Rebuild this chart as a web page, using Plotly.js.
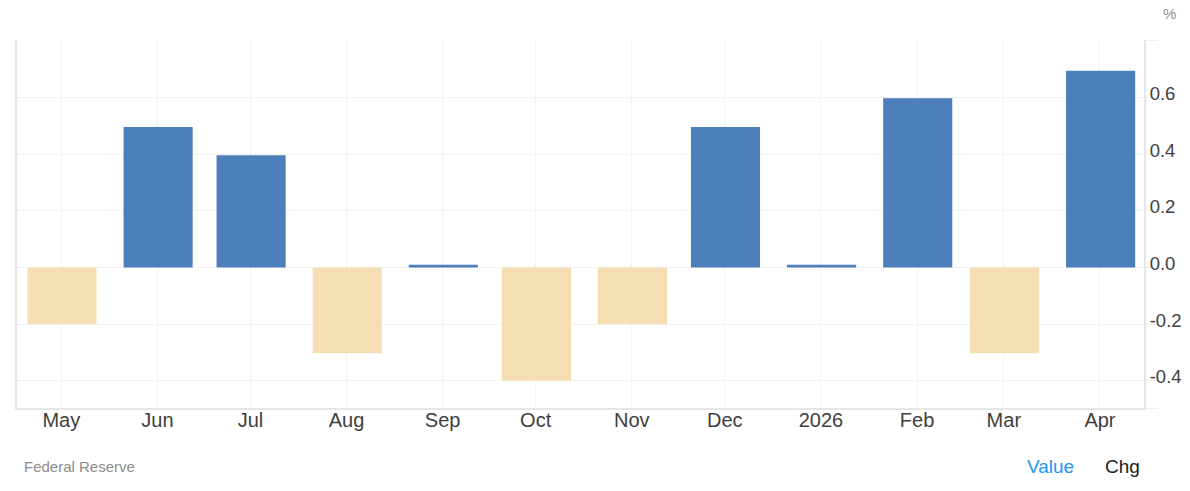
<!DOCTYPE html>
<html>
<head>
<meta charset="utf-8">
<script src="https://cdn.plot.ly/plotly-3.0.1.min.js"></script>
<style>
  html, body { margin: 0; padding: 0; background: #fff; }
</style>
</head>
<body>
<div id="chart" style="width:1190px;height:491px;"></div>
<script>
const months = ['2025-05-01', '2025-06-01', '2025-07-01', '2025-08-01', '2025-09-01', '2025-10-01',
                '2025-11-01', '2025-12-01', '2026-01-01', '2026-02-01', '2026-03-01', '2026-04-01'];
const monthLabels = ['May', 'Jun', 'Jul', 'Aug', 'Sep', 'Oct', 'Nov', 'Dec', '2026', 'Feb', 'Mar', 'Apr'];
const changes = [-0.2, 0.497, 0.397, -0.303, 0.01, -0.4, -0.2, 0.497, 0.01, 0.598, -0.303, 0.695];
const yRange = [-0.496, 0.804];
const yTicks = [-0.496, -0.4, -0.2, 0, 0.2, 0.4, 0.6, 0.804];
const yLabels = ['', '-0.4', '-0.2', '0.0', '0.2', '0.4', '0.6', ''];

const UP = '#4d80bb';
const DOWN = '#f5deb3';
const GRID = '#e6e6e6';
const TEXT = '#404040';
const DAY = 86400000;

const M = { t: 39.5, b: 82.5, l: 16.5, r: 46 };
const plotW = 1190 - M.l - M.r;
const plotH = 491 - M.t - M.b;

// annotations are placed in page pixels, converted to paper fractions
const label = (x, y, text, size, color, anchor) => ({
    xref: 'paper', yref: 'paper',
    x: (x - M.l) / plotW,
    y: (491 - M.b - y) / plotH,
    xanchor: anchor, yanchor: 'middle',
    text: text, showarrow: false,
    font: { size: size, color: color }
});

const data = [{
    type: 'bar',
    x: months,
    y: changes,
    width: 22.3 * DAY,
    offset: -10.93 * DAY,
    marker: { color: changes.map(v => v >= 0 ? UP : DOWN), line: { width: 0 } },
    hoverinfo: 'x+y'
}];

const layout = {
    width: 1190,
    height: 491,
    margin: M,
    paper_bgcolor: '#fff',
    plot_bgcolor: '#fff',
    font: { family: 'Liberation Sans, Arial, sans-serif', color: TEXT },
    showlegend: false,
    xaxis: {
        type: 'date',
        range: ['2025-04-16 17:00', '2026-04-15 05:00'],
        tickmode: 'array',
        tickvals: months,
        ticktext: monthLabels,
        tickangle: 0,
        tickfont: { size: 20, color: TEXT },
        ticks: '',
        ticklabelstandoff: -7,
        showgrid: true,
        gridcolor: GRID,
        griddash: '1px,1px',
        gridwidth: 1,
        showline: true,
        linecolor: GRID,
        linewidth: 2,
        zeroline: false
    },
    yaxis: {
        side: 'right',
        range: yRange,
        tickmode: 'array',
        tickvals: yTicks,
        ticktext: yLabels,
        tickfont: { size: 18.5, color: TEXT },
        ticks: 'outside',
        ticklen: 12,
        tickwidth: 1,
        tickcolor: '#eeeeee',
        ticklabelstandoff: -12,
        ticklabelshift: -4,
        showgrid: true,
        gridcolor: GRID,
        griddash: '1px,1px',
        gridwidth: 1,
        showline: true,
        linecolor: GRID,
        linewidth: 2,
        mirror: true,
        zeroline: false
    },
    annotations: [
        label(1178, 13, '%', 15, '#8c8c8c', 'right'),
        label(22, 467, 'Federal Reserve', 15, '#8c8c8c', 'left'),
        label(1050, 467, 'Value', 19, '#2196f3', 'center'),
        label(1122, 467, 'Chg', 19, '#222', 'center')
    ]
};

Plotly.newPlot('chart', data, layout, { displayModeBar: false });
</script>
</body>
</html>
